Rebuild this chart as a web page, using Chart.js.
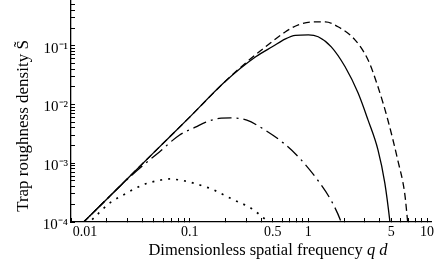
<!DOCTYPE html>
<html>
<head>
<meta charset="utf-8">
<title>Trap roughness density</title>
<script src="https://cdn.jsdelivr.net/npm/chart.js@4.4.1/dist/chart.umd.min.js"></script>
<style>
    html, body { margin: 0; padding: 0; background: #fff; }
    #wrap { width: 435px; height: 263px; }
</style>
</head>
<body>
<div id="wrap"><canvas id="roughnessChart"></canvas></div>
<script>
/* Curves (q d, S) */

const solidQ = [0.011, 0.02, 0.05, 0.1, 0.2, 0.36, 0.5, 0.642, 0.778, 1.0, 1.21, 1.56, 2.04, 2.62, 3.18, 3.86, 4.41, 4.87, 5.1];
const solidS = [7.4e-5, 2.44e-4, 1.53e-3, 6.1e-3, 0.0248, 0.0648, 0.097, 0.131, 0.15, 0.153, 0.142, 0.0957, 0.0438, 0.0158, 0.00547, 0.00169, 4.6e-4, 1e-4, 4e-5];

const dashedQ = [0.011, 0.02, 0.05, 0.1, 0.2, 0.3, 0.436, 0.642, 0.824, 1.14, 1.39, 1.78, 2.47, 3.18, 3.86, 4.67, 5.66, 6.48, 6.87, 7.2];
const dashedS = [7.4e-5, 2.44e-4, 1.53e-3, 6.1e-3, 0.0248, 0.052, 0.096, 0.173, 0.227, 0.255, 0.255, 0.21, 0.126, 0.0576, 0.02, 0.0055, 0.00114, 3.1e-4, 1e-4, 4e-5];

const dashDotQ = [0.011, 0.02, 0.03, 0.04, 0.0556, 0.0817, 0.113, 0.137, 0.177, 0.222, 0.303, 0.42, 0.618, 0.85, 1.23, 1.58, 1.89, 2.0];
const dashDotS = [7.4e-5, 2.44e-4, 5.4e-4, 9e-4, 1.56e-3, 3.0e-3, 4.15e-3, 5.0e-3, 5.8e-3, 5.9e-3, 5.4e-3, 3.8e-3, 2.2e-3, 1.2e-3, 4.8e-4, 2.2e-4, 1e-4, 7e-5];

const dottedQ = [0.0135, 0.0159, 0.0212, 0.0294, 0.0401, 0.0525, 0.0673, 0.0817, 0.099, 0.137, 0.16, 0.236, 0.327, 0.42, 0.46, 0.5];
const dottedS = [8.8e-5, 1.22e-4, 2.1e-4, 3.1e-4, 4.27e-4, 5.0e-4, 5.4e-4, 5.2e-4, 4.8e-4, 3.95e-4, 3.5e-4, 2.37e-4, 1.73e-4, 1.17e-4, 1e-4, 8.5e-5];


/* Ticks */

const xTicks = [
    0.01, 0.02, 0.03, 0.04, 0.05, 0.06, 0.07, 0.08, 0.09,
    0.1, 0.2, 0.3, 0.4, 0.5, 0.6, 0.7, 0.8, 0.9,
    1, 2, 3, 4, 5, 6, 7, 8, 9, 10
];
const xLabelValues = [0.01, 0.1, 0.5, 1, 5, 10];
const xLabelTexts = ["        0.01", "0.1", "0.5", "1", "5", "10"];

const yTicks = [
    1e-4, 2e-4, 3e-4, 4e-4, 5e-4, 6e-4, 7e-4, 8e-4, 9e-4,
    1e-3, 2e-3, 3e-3, 4e-3, 5e-3, 6e-3, 7e-3, 8e-3, 9e-3,
    1e-2, 2e-2, 3e-2, 4e-2, 5e-2, 6e-2, 7e-2, 8e-2, 9e-2,
    0.1, 0.2, 0.3, 0.4, 0.5
];
const yLabelValues = [1e-4, 1e-3, 1e-2, 1e-1];
const yLabelTexts = ["10\u207B\u2074", "10\u207B\u00B3", "10\u207B\u00B2", "10\u207B\u00B9"];


const serif = "'Liberation Serif', 'Times New Roman', serif";

function toPoints(q, s) {
    return q.map((x, i) => ({ x: x, y: s[i] }));
}

function labelFor(value, values, texts) {
    const i = values.findIndex(v => Math.abs(v - value) / v < 1e-6);
    return i < 0 ? "" : texts[i];
}

function curve(q, s, dash, width) {
    return {
        data: toPoints(q, s),
        borderColor: "#000",
        borderWidth: width,
        borderDash: dash,
        pointRadius: 0,
        fill: false,
        cubicInterpolationMode: "monotone"
    };
}


/* Axis titles (x title has an italic q d) */

const axisTitles = {
    id: "axisTitles",
    afterDraw(chart) {
        const ctx = chart.ctx;
        const area = chart.chartArea;

        ctx.save();
        ctx.fillStyle = "#000";
        ctx.textBaseline = "alphabetic";

        const plain = "Dimensionless spatial frequency ";
        const ital = "q d";
        ctx.font = "16.5px " + serif;
        const w1 = ctx.measureText(plain).width;
        ctx.font = "italic 16.5px " + serif;
        const w2 = ctx.measureText(ital).width;
        const x0 = (area.left + area.right) / 2 + 17 - (w1 + w2) / 2;
        const yBase = area.bottom + 33;
        ctx.textAlign = "left";
        ctx.font = "16.5px " + serif;
        ctx.fillText(plain, x0, yBase);
        ctx.font = "italic 16.5px " + serif;
        ctx.fillText(ital, x0 + w1, yBase);

        ctx.translate(28, (area.top + area.bottom) / 2 + 15);
        ctx.rotate(-Math.PI / 2);
        ctx.textAlign = "center";
        ctx.font = "17px " + serif;
        ctx.fillText("Trap roughness density S\u0303", 0, 0);

        ctx.restore();
    }
};


/* Chart */

const ctx = document.getElementById("roughnessChart");

const roughnessChart = new Chart(ctx, {

    type: "line",

    data: {
        datasets: [
            curve(solidQ, solidS, [], 1.3),
            curve(dashedQ, dashedS, [7, 4], 1.3),
            curve(dashDotQ, dashDotS, [14, 5, 2, 5], 1.3),
            curve(dottedQ, dottedS, [2, 6], 1.7)
        ]
    },

    options: {
        animation: false,
        responsive: true,
        maintainAspectRatio: false,
        layout: { padding: { top: 0, right: 4, bottom: 0, left: 0 } },
        plugins: {
            legend: { display: false },
            tooltip: { enabled: false }
        },
        scales: {
            x: {
                type: "logarithmic",
                min: 0.01,
                max: 10.8,
                afterBuildTicks: scale => {
                    scale.ticks = xTicks.map(v => ({ value: v }));
                },
                afterFit: scale => {
                    scale.height = 41;
                    scale.paddingLeft = 0;
                    scale.paddingRight = 0;
                },
                grid: { drawOnChartArea: false, tickLength: -4, color: "#000", tickWidth: 1 },
                border: { color: "#000", width: 1.3 },
                ticks: {
                    autoSkip: false,
                    maxRotation: 0,
                    padding: 6,
                    color: "#000",
                    font: { family: serif, size: 14 },
                    callback: value => labelFor(value, xLabelValues, xLabelTexts)
                }
            },
            y: {
                type: "logarithmic",
                min: 1e-4,
                max: 0.6,
                afterBuildTicks: scale => {
                    scale.ticks = yTicks.map(v => ({ value: v }));
                },
                afterFit: scale => {
                    scale.width = 71;
                    scale.paddingTop = 0;
                    scale.paddingBottom = 0;
                },
                grid: { drawOnChartArea: false, tickLength: -4, color: "#000", tickWidth: 1 },
                border: { color: "#000", width: 1.3 },
                ticks: {
                    autoSkip: false,
                    padding: 7,
                    labelOffset: 3,
                    color: "#000",
                    font: { family: serif, size: 15 },
                    callback: value => labelFor(value, yLabelValues, yLabelTexts)
                }
            }
        }
    },

    plugins: [axisTitles]

});
</script>
</body>
</html>
